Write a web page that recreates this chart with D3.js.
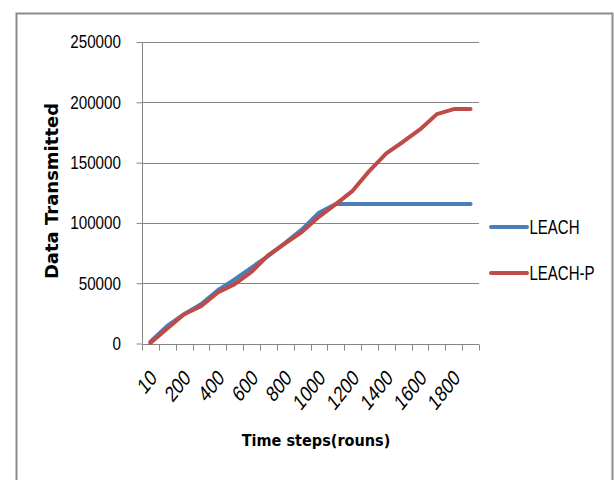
<!DOCTYPE html>
<html>
<head>
<meta charset="utf-8">
<script src="https://cdn.jsdelivr.net/npm/d3@7"></script>
<style>
  html, body { margin: 0; padding: 0; background: #fff; }
</style>
</head>
<body>
<svg id="chart" width="614" height="480"></svg>
<script>
const categories = [10, 100, 200, 300, 400, 500, 600, 700, 800, 900, 1000, 1100, 1200, 1300, 1400, 1500, 1600, 1700, 1800, 1900];
const leach  = [1400, 14600, 24300, 32600, 44200, 53100, 63000, 72700, 83500, 94600, 108400, 115600, 115600, 115600, 115600, 115600, 115600, 115600, 115600, 115600];
const leachP = [500, 12400, 24300, 31000, 42300, 49200, 59400, 73300, 83000, 92600, 105000, 115600, 126600, 143200, 157600, 167300, 177500, 190200, 194400, 194400];
const yTicks = [0, 50000, 100000, 150000, 200000, 250000];
const seriesNames = ["LEACH", "LEACH-P"];
const colors = ["#4A7EBB", "#BE4B48"];

const svg = d3.select("#chart");
const pLeft = 142, pRight = 479, pTop = 42, pBottom = 343.5;
const SANS = "'Liberation Sans', Arial, sans-serif";
const DJV = "'DejaVu Sans', Verdana, sans-serif";

function label(parent, x, y, str, o) {
  let tf = `translate(${x},${y})`;
  if (o.sy) tf += ` scale(1,${o.sy})`;
  if (o.rot) tf += ` rotate(${o.rot})`;
  if (o.sx) tf += ` scale(${o.sx},1)`;
  return parent.append("text").attr("transform", tf)
    .attr("font-family", o.family || SANS).attr("font-size", o.size)
    .attr("font-weight", o.weight || "normal")
    .attr("text-anchor", o.anchor || "start")
    .attr("dominant-baseline", o.baseline || "auto")
    .attr("fill", "#000").text(str);
}

// outer border
svg.append("rect").attr("x", 16.5).attr("y", 13.5).attr("width", 596).attr("height", 480)
  .attr("fill", "none").attr("stroke", "#8c8c8c").attr("stroke-width", 2);

const x = d3.scaleBand().domain(categories).range([pLeft, pRight]).padding(0);
const y = d3.scaleLinear().domain([0, 250000]).range([pBottom, pTop]);

// gridlines
svg.append("g").selectAll("line").data(yTicks.filter(d => d > 0)).join("line")
  .attr("x1", pLeft).attr("x2", pRight)
  .attr("y1", d => Math.round(y(d)) + 0.5).attr("y2", d => Math.round(y(d)) + 0.5)
  .attr("stroke", "#868686").attr("stroke-width", 1);

// y axis
const yAxis = svg.append("g").attr("transform", `translate(${pLeft + 0.5},0)`)
  .call(d3.axisLeft(y).tickValues(yTicks).tickSize(6).tickFormat(""));
yAxis.select(".domain").attr("stroke", "#868686").attr("d", `M0,${pTop}V${pBottom}`);
yAxis.selectAll(".tick line").attr("stroke", "#868686");
const yLab = svg.append("g");
yTicks.forEach(t => label(yLab, 121, y(t), d3.format("d")(t),
  { size: 17.7, sx: 0.86, anchor: "end", baseline: "central" }));

// x axis
const xAxis = svg.append("g").attr("transform", `translate(0,${Math.round(pBottom) + 0.5})`)
  .call(d3.axisBottom(x).tickSize(0).tickFormat(""));
xAxis.select(".domain").attr("stroke", "#868686").attr("d", `M${pLeft},0H${pRight}`);
const edges = categories.map(c => x(c)).concat([pRight]);
xAxis.append("g").selectAll("line").data(edges).join("line")
  .attr("x1", d => Math.round(d) + 0.5).attr("x2", d => Math.round(d) + 0.5)
  .attr("y1", 0).attr("y2", 6).attr("stroke", "#868686");
const xLab = svg.append("g");
categories.filter((c, i) => i % 2 === 0).forEach(c =>
  label(xLab, x(c) + x.bandwidth() / 2 + 3, pBottom + 30, String(c),
    { size: 18, sy: 1.25, rot: -45, sx: 0.91, anchor: "end", baseline: "central" }));

// lines
const line = d3.line().x((d, i) => x(categories[i]) + x.bandwidth() / 2).y(d => y(d));
[leach, leachP].forEach((s, k) => {
  svg.append("path").datum(s).attr("d", line)
    .attr("fill", "none").attr("stroke", colors[k]).attr("stroke-width", 4)
    .attr("stroke-linejoin", "round").attr("stroke-linecap", "round");
});

// legend
const legY = [227, 273];
const leg = svg.append("g");
seriesNames.forEach((n, k) => {
  leg.append("line").attr("x1", 491).attr("x2", 527).attr("y1", legY[k]).attr("y2", legY[k])
    .attr("stroke", colors[k]).attr("stroke-width", 4).attr("stroke-linecap", "round");
  label(leg, 529.5, legY[k], n, { size: 19.5, sx: 0.77, baseline: "central" });
});

// axis titles
label(svg, 58, 191, "Data Transmitted",
  { family: DJV, size: 18, weight: "bold", rot: -90, anchor: "middle" });
label(svg, 316, 446, "Time steps(rouns)",
  { family: DJV, size: 14.5, sy: 1.12, weight: "bold", anchor: "middle" });
</script>
</body>
</html>
